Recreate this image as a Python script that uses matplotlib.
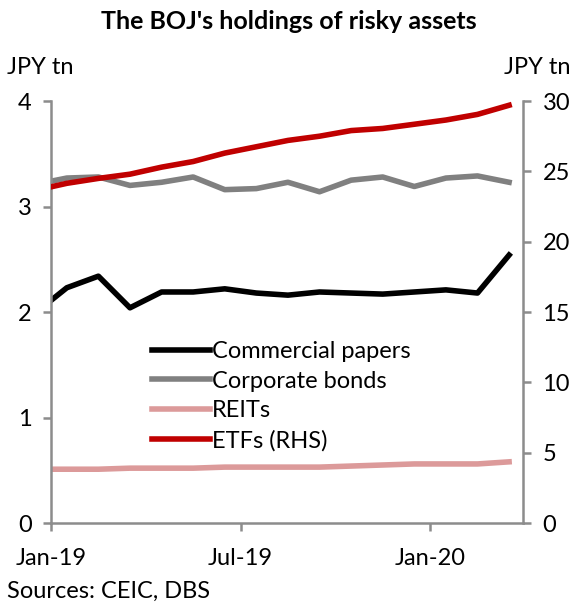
import matplotlib.pyplot as plt

# months since Jan-19 (first point at start of Jan, then mid-month readings)
months = [0, 0.5, 1.5, 2.5, 3.5, 4.5, 5.5, 6.5, 7.5, 8.5, 9.5, 10.5, 11.5, 12.5, 13.5, 14.5]
commercial_papers = [2.11, 2.23, 2.34, 2.04, 2.19, 2.19, 2.22, 2.18, 2.16, 2.19, 2.18, 2.17, 2.19, 2.21, 2.18, 2.54]
corporate_bonds = [3.24, 3.27, 3.28, 3.20, 3.23, 3.28, 3.16, 3.17, 3.23, 3.14, 3.25, 3.28, 3.19, 3.27, 3.29, 3.23]
reits = [0.51, 0.51, 0.51, 0.52, 0.52, 0.52, 0.53, 0.53, 0.53, 0.53, 0.54, 0.55, 0.56, 0.56, 0.56, 0.58]
etfs = [23.9, 24.15, 24.5, 24.8, 25.3, 25.7, 26.3, 26.75, 27.2, 27.5, 27.9, 28.05, 28.35, 28.65, 29.05, 29.7]

tick_pos = [0, 6, 12]
tick_labels = ['Jan-19', 'Jul-19', 'Jan-20']

plt.rcParams['font.family'] = ['Lato', 'DejaVu Sans']
spine_col = '#8c8c8c'
fs = 17

fig = plt.figure(figsize=(5.77, 6.05), dpi=100)
ax = fig.add_axes([0.0884, 0.1355, 0.8180, 0.6975])
ax2 = ax.twinx()

l1, = ax.plot(months, commercial_papers, color='black', lw=4, label='Commercial papers')
l2, = ax.plot(months, corporate_bonds, color='#808080', lw=4, label='Corporate bonds')
l3, = ax.plot(months, reits, color='#dc9a9a', lw=4, label='REITs')
l4, = ax2.plot(months, etfs, color='#c00000', lw=4, label='ETFs (RHS)')

ax.set_xlim(0, 14.94)
ax.set_ylim(0, 4)
ax2.set_ylim(0, 30)
ax.set_yticks([0, 1, 2, 3, 4])
ax2.set_yticks([0, 5, 10, 15, 20, 25, 30])
ax.set_xticks(tick_pos)
ax.set_xticklabels(tick_labels)

for a in (ax, ax2):
    a.spines['top'].set_visible(False)
    for s in ('left', 'right', 'bottom'):
        a.spines[s].set_color(spine_col)
        a.spines[s].set_linewidth(1.8)
    a.tick_params(colors=spine_col, labelcolor='black', labelsize=fs, width=1.8, length=6)
ax.spines['right'].set_visible(False)
ax2.spines['left'].set_visible(False)
ax2.spines['bottom'].set_visible(False)
ax.tick_params(axis='y', pad=8)
ax2.tick_params(axis='y', pad=8)
ax.tick_params(axis='x', pad=12)

fig.text(0.5, 0.965, "The BOJ's holdings of risky assets", ha='center', va='center',
         fontsize=18, fontweight='bold')
fig.text(0.012, 0.888, 'JPY tn', ha='left', va='center', fontsize=fs)
fig.text(0.988, 0.888, 'JPY tn', ha='right', va='center', fontsize=fs)
fig.text(0.012, 0.022, 'Sources: CEIC, DBS', ha='left', va='center', fontsize=fs)

fig.legend(handles=[l1, l2, l3, l4], loc='upper left', bbox_to_anchor=(0.263, 0.436),
           frameon=False, fontsize=fs, handlelength=2.45, handletextpad=0.1,
           labelspacing=0.36, borderpad=0, borderaxespad=0)

fig.savefig('out.png', dpi=100)
